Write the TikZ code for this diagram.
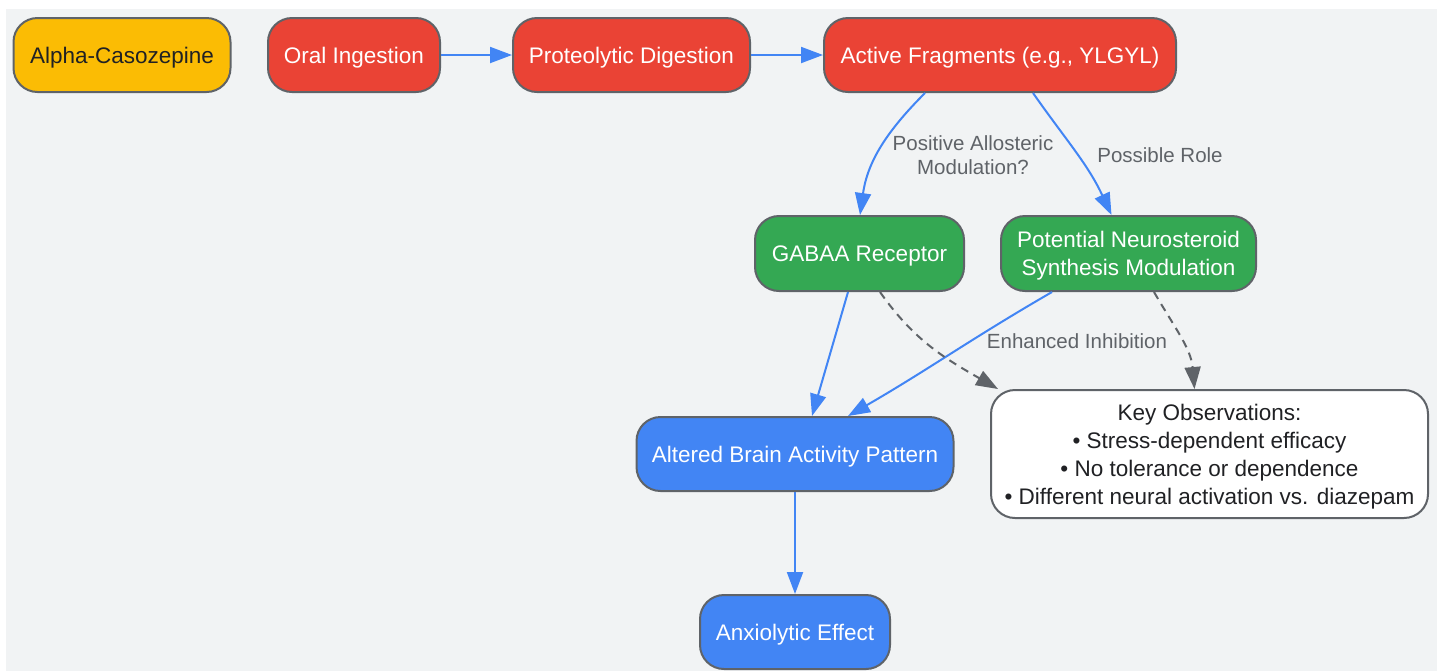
\documentclass[tikz,border=0pt]{standalone}
\usepackage{fontspec}
\setmainfont{Liberation Sans}
\usepackage{xcolor}
\usetikzlibrary{arrows.meta, calc}
\definecolor{bggray}{HTML}{F1F3F4}
\definecolor{edgegray}{HTML}{5F6368}
\definecolor{inkdark}{HTML}{202124}
\definecolor{flowblue}{HTML}{4285F4}
\definecolor{boxyellow}{HTML}{FBBC04}
\definecolor{boxred}{HTML}{EA4335}
\definecolor{boxgreen}{HTML}{34A853}
\definecolor{boxblue}{HTML}{4285F4}
\begin{document}
\begin{tikzpicture}[
    x=0.5pt, y=-0.5pt,
    every node/.style={font=\fontsize{11.25}{14}\selectfont},
    box/.style={draw=edgegray, line width=1pt, rounded corners=12pt, align=center, minimum height=37pt, inner sep=0pt, text depth=0pt},
    start/.style={box, fill=boxyellow, text=inkdark},
    intake/.style={box, fill=boxred, text=white},
    target/.style={box, fill=boxgreen, text=white, minimum height=37.5pt},
    outcome/.style={box, fill=boxblue, text=white},
    note/.style={box, fill=white, text=inkdark, minimum height=64pt},
    lbl/.style={text=edgegray, align=center, inner sep=0pt, text depth=0pt, font=\fontsize{10.25}{12}\selectfont},
    flow/.style={draw=flowblue, line width=1pt, -{Triangle[length=11pt, width=8pt]}},
    hint/.style={draw=edgegray, line width=1pt, dash pattern=on 4pt off 3pt, -{Triangle[length=11pt, width=8pt]}}
  ]
  \useasboundingbox (0,0) rectangle (1443,671);
  \fill[white] (0,0) rectangle (1443,671);
  \fill[bggray] (6,9) rectangle (1437,671);

  \node[start, minimum width=108.5pt] (alpha) at (122,55) {Alpha-Casozepine};
  \node[intake, minimum width=86pt] (oral) at (354,55) {Oral Ingestion};
  \node[intake, minimum width=118.5pt] (digest) at (631.5,55) {Proteolytic Digestion};
  \node[intake, minimum width=176pt] (frag) at (1000,55) {Active Fragments (e.g., YLGYL)};
  \node[target, minimum width=104.5pt] (gabaa) at (859.5,253.5) {GABAA Receptor};
  \node[target, minimum width=127.5pt] (neuro) at (1128.5,253.5) {Potential Neurosteroid\\Synthesis Modulation};
  \node[note, minimum width=218.5pt] (obs) at (1209.5,454) {Key Observations:\\• Stress-dependent efficacy\\• No tolerance or dependence\\• Different neural activation vs. diazepam};
  \node[outcome, minimum width=158.5pt] (brain) at (795,454) {Altered Brain Activity Pattern};
  \node[outcome, minimum width=95pt] (effect) at (795,632) {Anxiolytic Effect};

  \node[lbl] (pamlbl) at (973,155) {Positive Allosteric\\Modulation?};
  \node[lbl] (rolelbl) at (1160,155) {Possible Role};
  \node[lbl] (inhiblbl) at (1077,341) {Enhanced Inhibition};

  \draw[flow] (oral.east) -- (digest.west);
  \draw[flow] (digest.east) -- (frag.west);
  \draw[flow] ($(frag.south)+(-75,0)$) to[out=-135, in=82] ($(gabaa.north)+(0.5,0)$);
  \draw[flow] ($(frag.south)+(33,0)$) to[out=-55, in=115] ($(neuro.north)+(-17,0)$);
  \draw[flow] ($(gabaa.south)+(-11.5,0)$) -- ($(brain.north)+(17,0)$);
  \draw[flow] ($(neuro.south)+(-76.5,0)$) to[out=-150, in=30] ($(brain.north)+(53,0)$);
  \draw[hint] ($(gabaa.south)+(20.5,0)$) to[out=-55, in=150] ($(obs.north west)+(8,0)$);
  \draw[hint] ($(neuro.south)+(25.5,0)$) to[out=-60, in=95] ($(obs.north)+(-15,0)$);
  \draw[flow] (brain.south) -- (effect.north);
\end{tikzpicture}
\end{document}
